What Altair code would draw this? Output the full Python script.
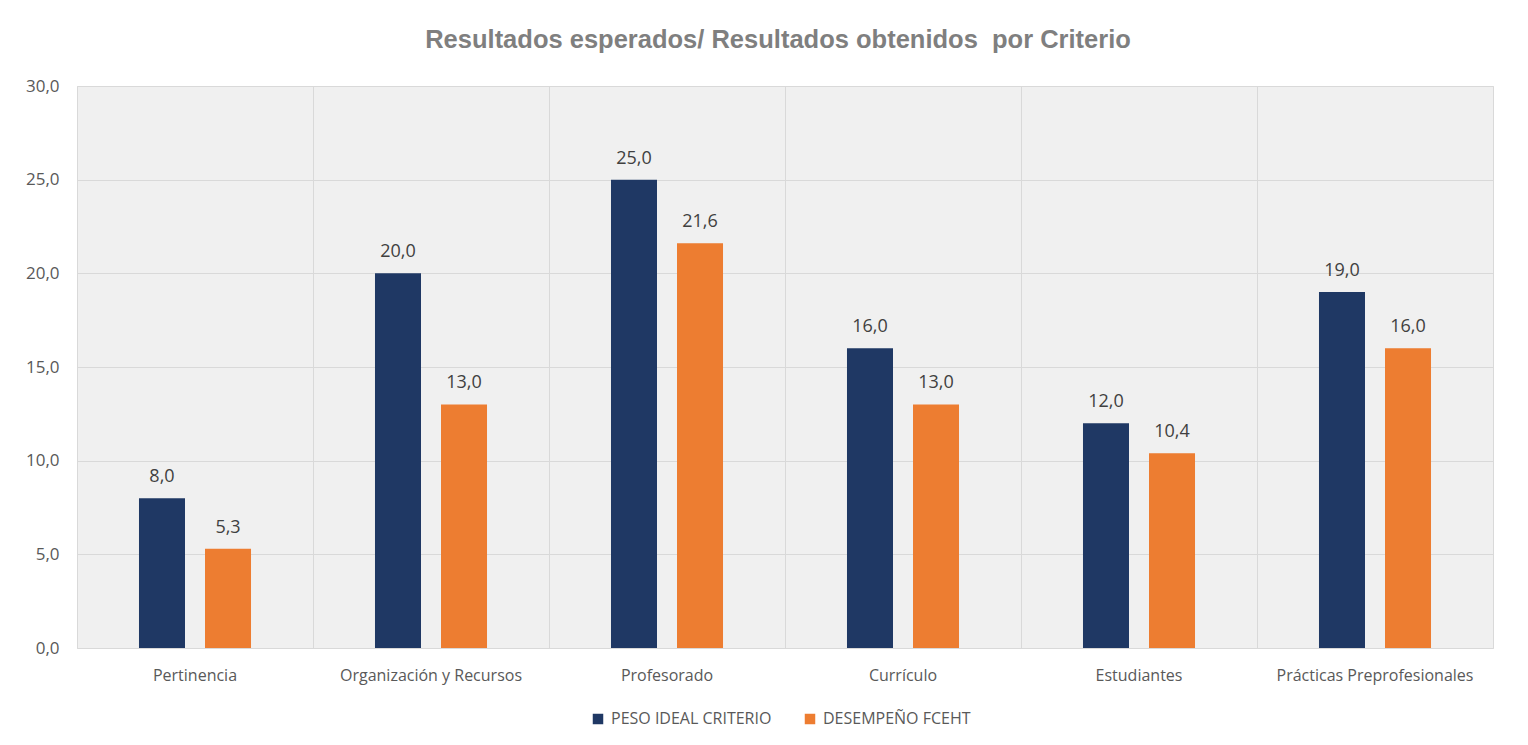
import altair as alt
import pandas as pd

categorias = ["Pertinencia", "Organización y Recursos", "Profesorado", "Currículo",
              "Estudiantes", "Prácticas Preprofesionales"]
series = ["PESO IDEAL CRITERIO", "DESEMPEÑO FCEHT"]
peso_ideal = [8.0, 20.0, 25.0, 16.0, 12.0, 19.0]
desempeno = [5.3, 13.0, 21.6, 13.0, 10.4, 16.0]
colores = ["#1f3864", "#ed7d31"]

rows = []
for c, a, b in zip(categorias, peso_ideal, desempeno):
    rows.append({"categoria": c, "serie": series[0], "valor": a})
    rows.append({"categoria": c, "serie": series[1], "valor": b})
df = pd.DataFrame(rows)

FONT = "Open Sans"
TXT = "#595959"

base = alt.Chart(df).encode(
    x=alt.X("categoria:N", sort=categorias, title=None,
            scale=alt.Scale(paddingInner=0, paddingOuter=0),
            axis=alt.Axis(labelAngle=0, ticks=False, domain=False, grid=True,
                          bandPosition=0, gridColor="#d9d9d9", labelPadding=19,
                          labelFontSize=16, labelColor=TXT, labelFont=FONT,
                          labelLimit=400)),
    xOffset=alt.XOffset("serie:N", sort=series,
                        scale=alt.Scale(paddingInner=0.303, paddingOuter=0.939)),
)

bars = base.mark_bar().encode(
    y=alt.Y("valor:Q", title=None,
            scale=alt.Scale(domain=[0, 30]),
            axis=alt.Axis(values=[0, 5, 10, 15, 20, 25, 30], ticks=False, domain=False,
                          gridColor="#d9d9d9", labelPadding=18, labelFontSize=17,
                          labelColor=TXT, labelFont=FONT,
                          labelExpr="replace(format(datum.value, '.1f'), '.', ',')")),
    color=alt.Color("serie:N", sort=series,
                    scale=alt.Scale(domain=series, range=colores),
                    legend=alt.Legend(title=None, orient="none", direction="horizontal",
                                      legendX=513, legendY=625,
                                      symbolType="square", symbolSize=110,
                                      symbolStrokeWidth=0, labelFontSize=16,
                                      labelColor=TXT, labelFont=FONT, columnPadding=30,
                                      labelOffset=5, labelLimit=400)),
)

labels = base.mark_text(dy=-21, fontSize=18, color="#404040", font=FONT).transform_calculate(
    etiqueta="replace(format(datum.valor, '.1f'), '.', ',')"
).encode(
    y=alt.Y("valor:Q"),
    text="etiqueta:N",
)

chart = alt.layer(bars, labels).properties(
    width=1416,
    height=562,
    autosize=alt.AutoSizeParams(type="none"),
    padding={"left": 69, "top": 78, "right": 27, "bottom": 95},
    view=alt.ViewBackground(fill="#f0f0f0", stroke="#d9d9d9"),
    title=alt.TitleParams("Resultados esperados/ Resultados obtenidos\u00a0 por Criterio",
                          anchor="middle", frame="group", fontSize=25.5,
                          font="Liberation Sans", fontWeight="bold",
                          color="#7f7f7f", offset=24, dx=-7),
).configure(background="white")

chart.save("out.html", embed_options={"renderer": "svg", "actions": False})
